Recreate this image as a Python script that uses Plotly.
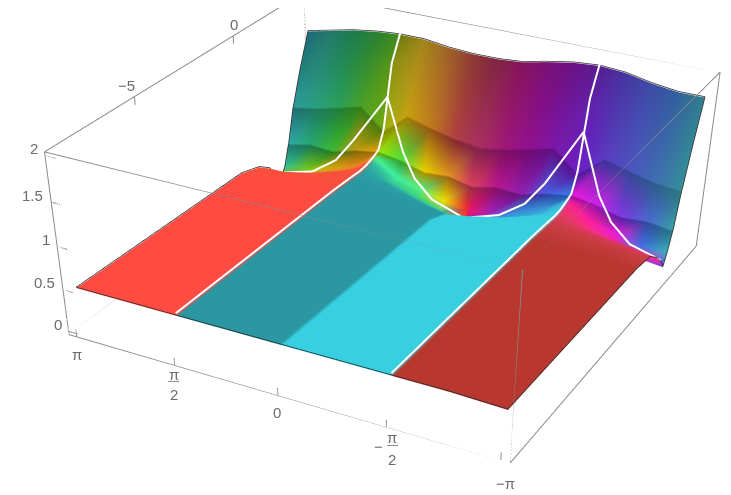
import math
import plotly.graph_objects as go

PI = math.pi

# imaginary part (columns, left to right on the picture) and real part (rows, front to back)
im_vals = [PI, 2.75, 2.36, 1.96, 1.60, 1.54, 1.18, 0.79, 0.39, 0.03,
           -0.03, -0.39, -0.79, -1.18, -1.54, -1.60, -1.96, -2.36, -2.75, -PI]
re_vals = [-8.75, -0.33, 0.67, 1.27, 1.67, 1.92, 2.17, 2.42, 2.45, 2.77, 2.80, 3.27, 3.81]

# height of the surface, one row per re_vals
heights = [
    [.50, .50, .50, .50, .50, .50, .50, .50, .50, .50, .50, .50, .50, .50, .50, .50, .50, .50, .49, .48],
    [.45, .45, .47, .48, .49, .49, .48, .47, .45, .44, .44, .45, .47, .48, .49, .49, .48, .47, .46, .44],
    [.37, .38, .43, .46, .48, .48, .46, .43, .38, .34, .34, .38, .43, .46, .48, .48, .46, .43, .42, .40],
    [.26, .26, .34, .43, .47, .47, .43, .34, .26, .20, .20, .26, .34, .43, .47, .47, .43, .38, .34, .28],
    [.11, .13, .24, .34, .48, .48, .34, .24, .13, .09, .09, .13, .24, .34, .48, .48, .34, .24, .18, .16],
    [.03, .08, .20, .30, .50, .50, .30, .20, .08, .02, .02, .08, .20, .30, .50, .50, .30, .20, .09, .05],
    [.14, .18, .26, .34, .52, .52, .34, .26, .18, .14, .14, .18, .26, .34, .52, .52, .34, .26, .20, .20],
    [.38, .44, .42, .50, .55, .55, .50, .42, .44, .38, .38, .44, .42, .50, .55, .55, .50, .42, .44, .40],
    [.40, .46, .44, .52, .56, .56, .52, .44, .46, .40, .40, .46, .44, .52, .56, .56, .52, .44, .46, .42],
    [.80, .85, .92, 1.00, .76, .76, 1.00, .92, .85, .80, .80, .85, .92, 1.00, .76, .76, 1.00, .92, .85, .82],
    [.82, .87, .94, 1.02, .80, .80, 1.02, .94, .87, .84, .84, .87, .94, 1.02, .80, .80, 1.02, .94, .87, .84],
    [1.22, 1.27, 1.35, 1.43, 1.50, 1.50, 1.45, 1.38, 1.33, 1.30, 1.30, 1.33, 1.40, 1.48, 1.56, 1.56, 1.48, 1.40, 1.32, 1.30],
    [1.62, 1.68, 1.74, 1.78, 1.80, 1.80, 1.80, 1.76, 1.74, 1.74, 1.74, 1.76, 1.82, 1.87, 1.89, 1.89, 1.87, 1.81, 1.77, 1.77],
]

A, B, C, D = "#FF4B41", "#2A97A3", "#38CFE0", "#B83830"
# colour read at every grid node
colours = [
    [A] * 5 + [B] * 5 + [C] * 5 + [D] * 5,
    [A] * 5 + [B] * 5 + [C] * 5 + [D] * 5,
    ["#F8503C"] * 5 + ["#2A98A3"] * 5 + [C] * 5 + ["#C83C40"] * 4 + ["#D04048"],
    ["#F06040", "#F4583C", "#F4563C", "#F6523E", "#F85040", "#2A9EA4", "#2A9EA4", "#2CA0A6", "#2EA2A8", "#2FA4A8",
     "#38C8E0", "#38C8E0", "#38CAE0", "#38CCE0", "#38CEE0", "#D83C50", "#D83C58", "#D83860", "#E03868", "#E83080"],
    ["#FF6038", "#F05838", "#F0553A", "#F45238", "#F85040", "#2CA8A0", "#2CB0A0", "#2CB8A8", "#2CB8B0", "#30B8B8",
     "#38C0D8", "#38B8DC", "#38BCDC", "#38C4DE", "#38C8E0", "#E83868", "#E83870", "#F03080", "#F82898", "#E820C0"],
    ["#A0A010", "#E8A020", "#E8842A", "#F06030", "#F05840", "#30B8A0", "#38C898", "#38D080", "#30D0A0", "#F06000",
     "#E01088", "#38A8D8", "#38B0D8", "#38C0DC", "#38C4DC", "#F03078", "#F83080", "#FF2098", "#E818E0", "#6050E0"],
    ["#38C090", "#70C820", "#D0A810", "#E88A18", "#E8842A", "#48F090", "#40F0A0", "#50F080", "#F0E000", "#F03030",
     "#E8186A", "#A020B8", "#3888D8", "#38A0D8", "#38B0D8", "#F82090", "#FF20A0", "#E820D8", "#4070E0", "#38B0B8"],
    ["#1F7878", "#1C7850", "#288020", "#806A08", "#A07006", "#66A804", "#2FA030", "#A89600", "#A06810", "#A02848",
     "#A02848", "#881068", "#681488", "#3040A8", "#2858B0", "#AC0CA0", "#9814AC", "#5A20A8", "#3048A0", "#287880"],
    ["#30A8A8", "#28A870", "#3CB830", "#C09A10", "#E0A008", "#90E808", "#50E040", "#E8D000", "#E09020", "#D84060",
     "#D84060", "#B81890", "#9020B0", "#4A5CE0", "#3A7AE8", "#E818D8", "#D020E8", "#7C38E0", "#4A68D0", "#38A0A8"],
    ["#1E6F74", "#1F7A60", "#1F7F3D", "#357F18", "#557F08", "#858A00", "#9E7D05", "#955A12", "#882A30", "#84204C",
     "#84204C", "#7E0E60", "#700B72", "#5E1086", "#55189A", "#5218A0", "#40309C", "#354798", "#2E5C8F", "#2A7A80"],
    ["#2C9A9A", "#2AA080", "#2AA05A", "#4AA028", "#70A810", "#A0B010", "#C8A010", "#C07A20", "#B04040", "#A83060",
     "#A83060", "#A01878", "#901090", "#7B18A8", "#6E20C0", "#6E20C8", "#5A3CC0", "#4C55C0", "#3F70B0", "#35909A"],
    ["#23827F", "#278C75", "#248C52", "#3A8F2E", "#589618", "#8E9412", "#B69018", "#AF6F24", "#9F3F38", "#942B50",
     "#942B50", "#931668", "#851082", "#731596", "#641EA8", "#6120AC", "#5038AF", "#4450B2", "#3968A7", "#328893"],
    ["#1B6A78", "#24796A", "#1D7A4C", "#2A8033", "#3F8A1C", "#757A10", "#A0851A", "#9F6428", "#8F3B35", "#7F2540",
     "#7F2540", "#85135E", "#7A1075", "#6A1285", "#5A1A8E", "#54208F", "#45359F", "#3C4CA5", "#335F9E", "#2F7F8C"],
]

# white curves running from the forks at im = +-pi/2 down to the three zeros: (im, re, height)
branch_mid_left = [(.05, 1.92, .03), (.55, 2.0, .14), (.9, 2.22, .31), (1.15, 2.42, .57), (1.57, 3.0, 1.1)]
branch_far_left = [(3.10, 1.92, .05), (2.6, 2.0, .14), (2.25, 2.22, .31), (2.0, 2.42, .57), (1.57, 3.0, 1.1)]
branch_mid_right = [(-.05, 1.92, .03), (-.55, 2.0, .14), (-.9, 2.22, .31), (-1.15, 2.42, .57), (-1.57, 3.0, 1.18)]
branch_far_right = [(-3.10, 1.92, .07), (-2.6, 2.0, .16), (-2.25, 2.22, .33), (-2.0, 2.42, .57), (-1.57, 3.0, 1.18)]

# box limits
x_lim = [-PI * 1.04, PI * 1.04]
y_lim = [-9.0, 4.06]
z_lim = [-.04, 2.04]

x_ticks = [PI, PI / 2, 0, -PI / 2, -PI]
y_ticks = [-5, 0]
z_ticks = [0, .5, 1, 1.5, 2]
z_tick_labels = ["0", "0.5", "1", "1.5", "2"]

GREY = "#8a8a8a"
TEXT = "#6b6b6b"
FONT = "Liberation Sans"

n_x, n_y = len(im_vals), len(re_vals)
vx, vy, vz, vc = [], [], [], []
for r in range(n_y):
    for c in range(n_x):
        vx.append(-im_vals[c])
        vy.append(re_vals[r])
        vz.append(heights[r][c])
        vc.append(colours[r][c])

ti, tj, tk = [], [], []
for r in range(n_y - 1):
    for c in range(n_x - 1):
        a = r * n_x + c
        b = a + 1
        d = a + n_x
        e = d + 1
        ti += [a, a]
        tj += [b, e]
        tk += [e, d]

fig = go.Figure()
fig.add_trace(go.Mesh3d(
    x=vx, y=vy, z=vz, i=ti, j=tj, k=tk, vertexcolor=vc,
    lighting=dict(ambient=1, diffuse=0, specular=0, roughness=1, fresnel=0),
    hoverinfo="skip", showscale=False,
))

# dark outline round the sheet
ox, oy, oz = [], [], []
for c in range(n_x):
    ox.append(-im_vals[c]); oy.append(re_vals[0]); oz.append(heights[0][c] + .01)
ox.append(None); oy.append(None); oz.append(None)
for c in range(n_x):
    ox.append(-im_vals[c]); oy.append(re_vals[-1]); oz.append(heights[-1][c] + .01)
ox.append(None); oy.append(None); oz.append(None)
for col in (0, n_x - 1):
    for r in range(n_y):
        ox.append(-im_vals[col]); oy.append(re_vals[r]); oz.append(heights[r][col] + .01)
    ox.append(None); oy.append(None); oz.append(None)
fig.add_trace(go.Scatter3d(x=ox, y=oy, z=oz, mode="lines", line=dict(color="#2b2b2b", width=1.5), hoverinfo="skip"))

# white cuts
wx, wy, wz = [], [], []
for col, im in ((4, PI / 2), (14, -PI / 2)):
    for r in range(n_y):
        wx.append(-im); wy.append(re_vals[r]); wz.append(heights[r][col] + .03)
    wx.append(None); wy.append(None); wz.append(None)
for curve in (branch_mid_left, branch_far_left, branch_mid_right, branch_far_right):
    for im, re_, h in curve:
        wx.append(-im); wy.append(re_); wz.append(h + .06)
    wx.append(None); wy.append(None); wz.append(None)
fig.add_trace(go.Scatter3d(x=wx, y=wy, z=wz, mode="lines", line=dict(color="white", width=4), hoverinfo="skip"))

# box edges and tick marks
bx, by, bz = [], [], []
def seg(p, q):
    bx.extend([p[0], q[0], None]); by.extend([p[1], q[1], None]); bz.extend([p[2], q[2], None])

x0, x1 = x_lim; y0, y1 = y_lim; z0, z1 = z_lim
for a, b in ((x0, y0), (x1, y0), (x0, y1), (x1, y1)):
    seg((a, b, z0), (a, b, z1))
for b in (y0, y1):
    for h in (z0, z1):
        seg((x0, b, h), (x1, b, h))
for a in (x0, x1):
    for h in (z0, z1):
        seg((a, y0, h), (a, y1, h))
for t in x_ticks:
    seg((-t, y0, z0), (-t, y0, z0 + .09))
for t in y_ticks:
    seg((x0, t, z1), (x0, t, z1 - .09))
for t in z_ticks:
    seg((x0, y0, t), (x0 + .16, y0, t))
fig.add_trace(go.Scatter3d(x=bx, y=by, z=bz, mode="lines", line=dict(color=GREY, width=2), hoverinfo="skip"))

notes = []
def note(x, y, z, text, dx=0, dy=0, size=15):
    notes.append(dict(x=x, y=y, z=z, text=text, showarrow=False, xshift=dx, yshift=dy,
                      font=dict(family=FONT, size=size, color=TEXT)))

note(-x_ticks[0], y0, z0, "π", dx=0, dy=-18)
note(-x_ticks[1], y0, z0, "π", dx=-1, dy=-9)
note(-x_ticks[1], y0, z0, "―", dx=-1, dy=-15, size=11)
note(-x_ticks[1], y0, z0, "2", dx=-1, dy=-29)
note(0, y0, z0, "0", dx=-1, dy=-17)
note(-x_ticks[3], y0, z0, "−", dx=-8, dy=-20)
note(-x_ticks[3], y0, z0, "π", dx=6, dy=-11)
note(-x_ticks[3], y0, z0, "―", dx=6, dy=-17, size=11)
note(-x_ticks[3], y0, z0, "2", dx=6, dy=-33)
note(-x_ticks[4], y0, z0, "−π", dx=5, dy=-23)
note(x0, y_ticks[0], z1, "−5", dx=-8, dy=11)
note(x0, y_ticks[1], z1, "0", dx=1, dy=11)
for t, s in zip(z_ticks, z_tick_labels):
    note(x0, y0, t, s, dx=-7 - 4 * len(s), dy=7)

hidden = dict(visible=False)
fig.update_layout(
    width=731, height=1400,
    margin=dict(l=0, r=0, t=0, b=0),
    paper_bgcolor="white",
    showlegend=False,
    scene=dict(
        domain=dict(x=[0, 1], y=[0, 1]),
        xaxis=dict(range=x_lim, **hidden),
        yaxis=dict(range=y_lim, **hidden),
        zaxis=dict(range=z_lim, **hidden),
        aspectmode="manual",
        aspectratio=dict(x=1, y=.987, z=.39),
        camera=dict(
            eye=dict(x=1.527, y=-2.934, z=1.549),
            center=dict(x=.251, y=-.565, z=-.852),
            up=dict(x=0, y=0, z=1),
            projection=dict(type="perspective"),
        ),
        annotations=notes,
    ),
)

fig.write_html("out.html")
